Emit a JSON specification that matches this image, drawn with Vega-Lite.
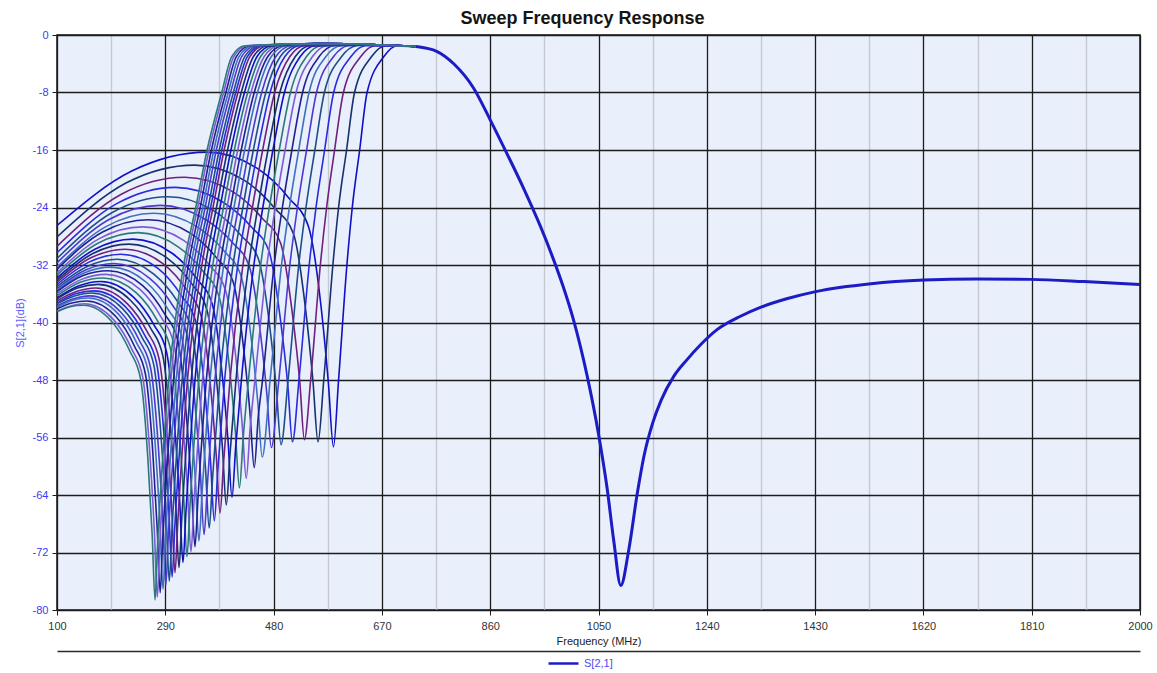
{
  "$schema": "https://vega.github.io/schema/vega-lite/v6.json",
  "autosize": {"type": "none"},
  "padding": {"left": 57, "top": 35, "right": 17, "bottom": 63},
  "width": 1083,
  "height": 575,
  "background": "#ffffff",
  "config": {
    "font": "Liberation Sans",
    "view": {"fill": "#e9effb", "stroke": "#161616", "strokeWidth": 1.5}
  },
  "title": {
    "text": "Sweep Frequency Response",
    "font": "Liberation Sans",
    "fontSize": 18,
    "fontWeight": "bold",
    "color": "#141414",
    "anchor": "middle",
    "dx": -16,
    "offset": 1
  },
  "datasets": {
    "sweep": [
      {"c":0,"f":100,"v":-26.5},{"c":0,"f":232,"v":-18.9},{"c":0,"f":363,"v":-16.3},{"c":0,"f":452,"v":-18.6},{"c":0,"f":507,"v":-22.7},{"c":0,"f":541,"v":-26.6},{"c":0,"f":563,"v":-37.6},{"c":0,"f":576,"v":-48.3},{"c":0,"f":585,"v":-57.3},{"c":0,"f":594,"v":-48},{"c":0,"f":608.6,"v":-32},{"c":0,"f":618,"v":-24},{"c":0,"f":631,"v":-16},{"c":0,"f":644,"v":-8},{"c":0,"f":673.5,"v":-3},{"c":0,"f":697,"v":-1.5},{"c":0,"f":730,"v":-1.6},
      {"c":1,"f":100,"v":-28.1},{"c":1,"f":221,"v":-20.6},{"c":1,"f":342,"v":-18.1},{"c":1,"f":428,"v":-20.2},{"c":1,"f":482,"v":-24.1},{"c":1,"f":515,"v":-27.7},{"c":1,"f":536,"v":-38.1},{"c":1,"f":549,"v":-48.1},{"c":1,"f":558,"v":-56.6},{"c":1,"f":568,"v":-48},{"c":1,"f":584,"v":-32},{"c":1,"f":594,"v":-24},{"c":1,"f":608,"v":-16},{"c":1,"f":622,"v":-8},{"c":1,"f":652,"v":-3},{"c":1,"f":677,"v":-1.5},{"c":1,"f":730,"v":-1.6},
      {"c":2,"f":100,"v":-29.4},{"c":2,"f":212,"v":-22.2},{"c":2,"f":324,"v":-19.8},{"c":2,"f":408,"v":-21.8},{"c":2,"f":460,"v":-25.5},{"c":2,"f":492,"v":-28.9},{"c":2,"f":513,"v":-38.8},{"c":2,"f":526,"v":-48.3},{"c":2,"f":534,"v":-56.3},{"c":2,"f":545,"v":-48},{"c":2,"f":562,"v":-32},{"c":2,"f":573,"v":-24},{"c":2,"f":587,"v":-16},{"c":2,"f":602.5,"v":-8},{"c":2,"f":633,"v":-3},{"c":2,"f":658,"v":-1.5},{"c":2,"f":730,"v":-1.6},
      {"c":3,"f":100,"v":-30.3},{"c":3,"f":204,"v":-23.5},{"c":3,"f":308,"v":-21.2},{"c":3,"f":390,"v":-23.2},{"c":3,"f":441,"v":-26.7},{"c":3,"f":472,"v":-30.1},{"c":3,"f":492,"v":-39.6},{"c":3,"f":505,"v":-48.8},{"c":3,"f":513,"v":-56.6},{"c":3,"f":524.5,"v":-48},{"c":3,"f":542.5,"v":-32},{"c":3,"f":554.4,"v":-24},{"c":3,"f":569.5,"v":-16},{"c":3,"f":585.4,"v":-8},{"c":3,"f":615.8,"v":-3},{"c":3,"f":641.4,"v":-1.5},{"c":3,"f":730,"v":-1.6},
      {"c":4,"f":100,"v":-31.1},{"c":4,"f":197,"v":-24.7},{"c":4,"f":294,"v":-22.5},{"c":4,"f":374,"v":-24.4},{"c":4,"f":423,"v":-27.9},{"c":4,"f":453,"v":-31.1},{"c":4,"f":473,"v":-40.4},{"c":4,"f":485,"v":-49.4},{"c":4,"f":493,"v":-57},{"c":4,"f":505.4,"v":-48},{"c":4,"f":524.1,"v":-32},{"c":4,"f":536.8,"v":-24},{"c":4,"f":552.4,"v":-16},{"c":4,"f":569.1,"v":-8},{"c":4,"f":599.4,"v":-3},{"c":4,"f":625.3,"v":-1.5},{"c":4,"f":660,"v":-1.35},{"c":4,"f":730,"v":-1.6},
      {"c":5,"f":100,"v":-31.7},{"c":5,"f":190.5,"v":-25.7},{"c":5,"f":281,"v":-23.7},{"c":5,"f":359,"v":-25.6},{"c":5,"f":408,"v":-28.9},{"c":5,"f":437,"v":-32.1},{"c":5,"f":456.5,"v":-41.2},{"c":5,"f":468.2,"v":-50},{"c":5,"f":476,"v":-57.4},{"c":5,"f":489.2,"v":-48},{"c":5,"f":508.5,"v":-32},{"c":5,"f":521.8,"v":-24},{"c":5,"f":537.9,"v":-16},{"c":5,"f":555.3,"v":-8},{"c":5,"f":585.3,"v":-3},{"c":5,"f":611.5,"v":-1.5},{"c":5,"f":660,"v":-1.35},{"c":5,"f":730,"v":-1.6},
      {"c":6,"f":100,"v":-32.3},{"c":6,"f":185,"v":-26.7},{"c":6,"f":270,"v":-24.8},{"c":6,"f":346,"v":-26.7},{"c":6,"f":393.5,"v":-30.1},{"c":6,"f":422,"v":-33.3},{"c":6,"f":441,"v":-42.4},{"c":6,"f":452.4,"v":-51.2},{"c":6,"f":460,"v":-58.7},{"c":6,"f":473.9,"v":-48},{"c":6,"f":493.9,"v":-32},{"c":6,"f":507.7,"v":-24},{"c":6,"f":524.1,"v":-16},{"c":6,"f":542.2,"v":-8},{"c":6,"f":571.8,"v":-3},{"c":6,"f":598.2,"v":-1.5},{"c":6,"f":660,"v":-1.35},{"c":6,"f":730,"v":-1.6},
      {"c":7,"f":100,"v":-32.6},{"c":7,"f":180,"v":-27.4},{"c":7,"f":260,"v":-25.7},{"c":7,"f":334.4,"v":-27.6},{"c":7,"f":380.9,"v":-31.1},{"c":7,"f":408.8,"v":-34.3},{"c":7,"f":427.4,"v":-43.6},{"c":7,"f":438.6,"v":-52.6},{"c":7,"f":446,"v":-60.2},{"c":7,"f":453,"v":-53.2},{"c":7,"f":460.6,"v":-48},{"c":7,"f":481,"v":-32},{"c":7,"f":495.4,"v":-24},{"c":7,"f":512.1,"v":-16},{"c":7,"f":530.8,"v":-8},{"c":7,"f":560,"v":-3},{"c":7,"f":586.4,"v":-1.5},{"c":7,"f":660,"v":-1.35},{"c":7,"f":730,"v":-1.6},
      {"c":8,"f":100,"v":-33.1},{"c":8,"f":175,"v":-28.3},{"c":8,"f":250,"v":-26.7},{"c":8,"f":322.8,"v":-28.6},{"c":8,"f":368.3,"v":-32.1},{"c":8,"f":395.6,"v":-35.5},{"c":8,"f":413.8,"v":-44.9},{"c":8,"f":424.7,"v":-54},{"c":8,"f":432,"v":-61.7},{"c":8,"f":438.8,"v":-54.7},{"c":8,"f":447.2,"v":-48},{"c":8,"f":468.3,"v":-32},{"c":8,"f":483,"v":-24},{"c":8,"f":500.2,"v":-16},{"c":8,"f":519.4,"v":-8},{"c":8,"f":548.2,"v":-3},{"c":8,"f":574.5,"v":-1.5},{"c":8,"f":660,"v":-1.35},{"c":8,"f":730,"v":-1.6},
      {"c":9,"f":100,"v":-33.4},{"c":9,"f":171,"v":-29},{"c":9,"f":242,"v":-27.5},{"c":9,"f":313.2,"v":-29.5},{"c":9,"f":357.7,"v":-33},{"c":9,"f":384.4,"v":-36.4},{"c":9,"f":402.2,"v":-46},{"c":9,"f":412.9,"v":-55.2},{"c":9,"f":420,"v":-63},{"c":9,"f":426.7,"v":-56},{"c":9,"f":435.9,"v":-48},{"c":9,"f":457.3,"v":-32},{"c":9,"f":472.5,"v":-24},{"c":9,"f":489.9,"v":-16},{"c":9,"f":509.6,"v":-8},{"c":9,"f":537.8,"v":-3},{"c":9,"f":564.3,"v":-1.5},{"c":9,"f":660,"v":-1.35},{"c":9,"f":730,"v":-1.6},
      {"c":10,"f":100,"v":-33.8},{"c":10,"f":166.5,"v":-29.8},{"c":10,"f":233,"v":-28.4},{"c":10,"f":302.6,"v":-30.4},{"c":10,"f":346.1,"v":-34},{"c":10,"f":372.2,"v":-37.4},{"c":10,"f":389.6,"v":-47.1},{"c":10,"f":400,"v":-56.4},{"c":10,"f":407,"v":-64.3},{"c":10,"f":413.5,"v":-57.3},{"c":10,"f":423.5,"v":-48},{"c":10,"f":445.4,"v":-32},{"c":10,"f":461.1,"v":-24},{"c":10,"f":478.8,"v":-16},{"c":10,"f":499,"v":-8},{"c":10,"f":526.8,"v":-3},{"c":10,"f":553.1,"v":-1.5},{"c":10,"f":660,"v":-1.35},{"c":10,"f":730,"v":-1.6},
      {"c":11,"f":100,"v":-34.1},{"c":11,"f":163,"v":-30.4},{"c":11,"f":226,"v":-29.1},{"c":11,"f":294.4,"v":-31.1},{"c":11,"f":337.2,"v":-34.7},{"c":11,"f":362.8,"v":-38.2},{"c":11,"f":379.9,"v":-48},{"c":11,"f":390.2,"v":-57.4},{"c":11,"f":397,"v":-65.4},{"c":11,"f":403.4,"v":-58.4},{"c":11,"f":414,"v":-48},{"c":11,"f":436.3,"v":-32},{"c":11,"f":452.4,"v":-24},{"c":11,"f":470.2,"v":-16},{"c":11,"f":490.9,"v":-8},{"c":11,"f":518.1,"v":-3},{"c":11,"f":544.3,"v":-1.5},{"c":11,"f":660,"v":-1.35},{"c":11,"f":730,"v":-1.6},
      {"c":12,"f":100,"v":-34.4},{"c":12,"f":159.5,"v":-31},{"c":12,"f":219,"v":-29.8},{"c":12,"f":285.8,"v":-31.8},{"c":12,"f":327.6,"v":-35.5},{"c":12,"f":352.6,"v":-39},{"c":12,"f":369.3,"v":-48.9},{"c":12,"f":379.3,"v":-58.4},{"c":12,"f":386,"v":-66.5},{"c":12,"f":392.2,"v":-59.5},{"c":12,"f":403.5,"v":-48},{"c":12,"f":426.2,"v":-32},{"c":12,"f":442.8,"v":-24},{"c":12,"f":460.8,"v":-16},{"c":12,"f":481.9,"v":-8},{"c":12,"f":508.6,"v":-3},{"c":12,"f":534.7,"v":-1.5},{"c":12,"f":660,"v":-1.35},{"c":12,"f":730,"v":-1.6},
      {"c":13,"f":100,"v":-34.7},{"c":13,"f":156,"v":-31.6},{"c":13,"f":212,"v":-30.5},{"c":13,"f":277.6,"v":-32.5},{"c":13,"f":318.6,"v":-36.3},{"c":13,"f":343.2,"v":-39.8},{"c":13,"f":359.6,"v":-49.8},{"c":13,"f":369.4,"v":-59.4},{"c":13,"f":376,"v":-67.6},{"c":13,"f":382.1,"v":-60.6},{"c":13,"f":394.1,"v":-48},{"c":13,"f":417.1,"v":-32},{"c":13,"f":434,"v":-24},{"c":13,"f":452.3,"v":-16},{"c":13,"f":473.8,"v":-8},{"c":13,"f":499.8,"v":-3},{"c":13,"f":525.8,"v":-1.5},{"c":13,"f":660,"v":-1.35},{"c":13,"f":730,"v":-1.6},
      {"c":14,"f":100,"v":-35},{"c":14,"f":153,"v":-32.2},{"c":14,"f":206,"v":-31.2},{"c":14,"f":270.4,"v":-33.3},{"c":14,"f":310.7,"v":-37},{"c":14,"f":334.8,"v":-40.6},{"c":14,"f":350.9,"v":-50.6},{"c":14,"f":360.6,"v":-60.4},{"c":14,"f":367,"v":-68.6},{"c":14,"f":373,"v":-61.6},{"c":14,"f":385.6,"v":-48},{"c":14,"f":408.8,"v":-32},{"c":14,"f":426.1,"v":-24},{"c":14,"f":444.5,"v":-16},{"c":14,"f":466.4,"v":-8},{"c":14,"f":491.8,"v":-3},{"c":14,"f":517.8,"v":-1.5},{"c":14,"f":560,"v":-1.2},{"c":14,"f":660,"v":-1.35},{"c":14,"f":730,"v":-1.6},
      {"c":15,"f":100,"v":-35.3},{"c":15,"f":150,"v":-32.7},{"c":15,"f":200,"v":-31.8},{"c":15,"f":263.2,"v":-33.9},{"c":15,"f":302.7,"v":-37.6},{"c":15,"f":326.4,"v":-41.2},{"c":15,"f":342.2,"v":-51.4},{"c":15,"f":351.7,"v":-61.2},{"c":15,"f":358,"v":-69.5},{"c":15,"f":363.9,"v":-62.5},{"c":15,"f":377.1,"v":-48},{"c":15,"f":400.7,"v":-32},{"c":15,"f":418.3,"v":-24},{"c":15,"f":436.9,"v":-16},{"c":15,"f":459.1,"v":-8},{"c":15,"f":484,"v":-3},{"c":15,"f":509.8,"v":-1.5},{"c":15,"f":560,"v":-1.2},{"c":15,"f":660,"v":-1.35},{"c":15,"f":730,"v":-1.6},
      {"c":16,"f":100,"v":-35.5},{"c":16,"f":147.5,"v":-33.1},{"c":16,"f":195,"v":-32.3},{"c":16,"f":256.6,"v":-34.4},{"c":16,"f":295.1,"v":-38.2},{"c":16,"f":318.2,"v":-41.8},{"c":16,"f":333.6,"v":-52.1},{"c":16,"f":342.8,"v":-62},{"c":16,"f":349,"v":-70.4},{"c":16,"f":354.7,"v":-63.4},{"c":16,"f":368.5,"v":-48},{"c":16,"f":392.5,"v":-32},{"c":16,"f":410.5,"v":-24},{"c":16,"f":429.2,"v":-16},{"c":16,"f":451.8,"v":-8},{"c":16,"f":476.1,"v":-3},{"c":16,"f":501.8,"v":-1.5},{"c":16,"f":560,"v":-1.2},{"c":16,"f":660,"v":-1.35},{"c":16,"f":730,"v":-1.6},
      {"c":17,"f":100,"v":-35.7},{"c":17,"f":145,"v":-33.5},{"c":17,"f":190,"v":-32.8},{"c":17,"f":250.8,"v":-34.9},{"c":17,"f":288.8,"v":-38.8},{"c":17,"f":311.6,"v":-42.4},{"c":17,"f":326.8,"v":-52.8},{"c":17,"f":335.9,"v":-62.8},{"c":17,"f":342,"v":-71.2},{"c":17,"f":347.5,"v":-64.2},{"c":17,"f":362,"v":-48},{"c":17,"f":386,"v":-32},{"c":17,"f":404.4,"v":-24},{"c":17,"f":423.2,"v":-16},{"c":17,"f":446.1,"v":-8},{"c":17,"f":469.9,"v":-3},{"c":17,"f":495.4,"v":-1.5},{"c":17,"f":560,"v":-1.2},{"c":17,"f":660,"v":-1.35},{"c":17,"f":730,"v":-1.6},
      {"c":18,"f":100,"v":-36},{"c":18,"f":143,"v":-34},{"c":18,"f":186,"v":-33.3},{"c":18,"f":245.6,"v":-35.4},{"c":18,"f":282.9,"v":-39.3},{"c":18,"f":305.2,"v":-43},{"c":18,"f":320.1,"v":-53.4},{"c":18,"f":329,"v":-63.4},{"c":18,"f":335,"v":-71.9},{"c":18,"f":340.4,"v":-64.9},{"c":18,"f":355.3,"v":-48},{"c":18,"f":379.6,"v":-32},{"c":18,"f":398.2,"v":-24},{"c":18,"f":417.1,"v":-16},{"c":18,"f":440.3,"v":-8},{"c":18,"f":463.6,"v":-3},{"c":18,"f":488.8,"v":-1.5},{"c":18,"f":560,"v":-1.2},{"c":18,"f":660,"v":-1.35},{"c":18,"f":730,"v":-1.6},
      {"c":19,"f":100,"v":-36.3},{"c":19,"f":140.5,"v":-34.4},{"c":19,"f":181,"v":-33.8},{"c":19,"f":239.8,"v":-35.9},{"c":19,"f":276.6,"v":-39.8},{"c":19,"f":298.6,"v":-43.5},{"c":19,"f":313.3,"v":-54},{"c":19,"f":322.1,"v":-64.1},{"c":19,"f":328,"v":-72.6},{"c":19,"f":333.2,"v":-65.6},{"c":19,"f":348.7,"v":-48},{"c":19,"f":373.3,"v":-32},{"c":19,"f":392.1,"v":-24},{"c":19,"f":411.1,"v":-16},{"c":19,"f":434.6,"v":-8},{"c":19,"f":457.3,"v":-3},{"c":19,"f":482.5,"v":-1.5},{"c":19,"f":560,"v":-1.2},{"c":19,"f":660,"v":-1.35},{"c":19,"f":730,"v":-1.6},
      {"c":20,"f":100,"v":-36.6},{"c":20,"f":138.5,"v":-34.9},{"c":20,"f":177,"v":-34.3},{"c":20,"f":234.6,"v":-36.5},{"c":20,"f":270.6,"v":-40.4},{"c":20,"f":292.2,"v":-44.1},{"c":20,"f":306.6,"v":-54.6},{"c":20,"f":315.2,"v":-64.8},{"c":20,"f":321,"v":-73.4},{"c":20,"f":326.2,"v":-66.4},{"c":20,"f":342.1,"v":-48},{"c":20,"f":366.9,"v":-32},{"c":20,"f":386,"v":-24},{"c":20,"f":405.2,"v":-16},{"c":20,"f":428.9,"v":-8},{"c":20,"f":451,"v":-3},{"c":20,"f":475.9,"v":-1.5},{"c":20,"f":560,"v":-1.2},{"c":20,"f":660,"v":-1.35},{"c":20,"f":730,"v":-1.6},
      {"c":21,"f":100,"v":-36.7},{"c":21,"f":136,"v":-35.2},{"c":21,"f":172,"v":-34.7},{"c":21,"f":228.8,"v":-36.9},{"c":21,"f":264.3,"v":-40.8},{"c":21,"f":285.6,"v":-44.6},{"c":21,"f":299.8,"v":-55.2},{"c":21,"f":308.3,"v":-65.4},{"c":21,"f":314,"v":-74.1},{"c":21,"f":319,"v":-67.1},{"c":21,"f":335.5,"v":-48},{"c":21,"f":360.5,"v":-32},{"c":21,"f":379.8,"v":-24},{"c":21,"f":399.2,"v":-16},{"c":21,"f":423.2,"v":-8},{"c":21,"f":444.7,"v":-3},{"c":21,"f":469.5,"v":-1.5},{"c":21,"f":560,"v":-1.2},{"c":21,"f":660,"v":-1.35},{"c":21,"f":730,"v":-1.6},
      {"c":22,"f":100,"v":-37},{"c":22,"f":134,"v":-35.7},{"c":22,"f":168,"v":-35.2},{"c":22,"f":223.6,"v":-37.4},{"c":22,"f":258.4,"v":-41.3},{"c":22,"f":279.2,"v":-45.1},{"c":22,"f":293.1,"v":-55.8},{"c":22,"f":301.4,"v":-66.1},{"c":22,"f":307,"v":-74.8},{"c":22,"f":311.9,"v":-67.8},{"c":22,"f":328.9,"v":-48},{"c":22,"f":354.2,"v":-32},{"c":22,"f":373.7,"v":-24},{"c":22,"f":393.2,"v":-16},{"c":22,"f":417.5,"v":-8},{"c":22,"f":438.4,"v":-3},{"c":22,"f":463,"v":-1.5},{"c":22,"f":560,"v":-1.2},{"c":22,"f":660,"v":-1.35},{"c":22,"f":730,"v":-1.6},
      {"c":23,"f":100,"v":-37.3},{"c":23,"f":132.5,"v":-36},{"c":23,"f":165,"v":-35.6},{"c":23,"f":219.8,"v":-37.8},{"c":23,"f":254,"v":-41.8},{"c":23,"f":274.6,"v":-45.6},{"c":23,"f":288.3,"v":-56.3},{"c":23,"f":296.5,"v":-66.6},{"c":23,"f":302,"v":-75.4},{"c":23,"f":306.7,"v":-68.4},{"c":23,"f":324.2,"v":-48},{"c":23,"f":349.6,"v":-32},{"c":23,"f":369.5,"v":-24},{"c":23,"f":389,"v":-16},{"c":23,"f":413.5,"v":-8},{"c":23,"f":434,"v":-3},{"c":23,"f":458.4,"v":-1.5},{"c":23,"f":560,"v":-1.2},{"c":23,"f":660,"v":-1.35},{"c":23,"f":730,"v":-1.6},
      {"c":24,"f":100,"v":-37.4},{"c":24,"f":130.5,"v":-36.3},{"c":24,"f":161,"v":-35.9},{"c":24,"f":215.4,"v":-38.1},{"c":24,"f":249.4,"v":-42.1},{"c":24,"f":269.8,"v":-45.9},{"c":24,"f":283.4,"v":-56.8},{"c":24,"f":291.6,"v":-67.2},{"c":24,"f":297,"v":-76},{"c":24,"f":301.6,"v":-69},{"c":24,"f":319.5,"v":-48},{"c":24,"f":345.1,"v":-32},{"c":24,"f":365.1,"v":-24},{"c":24,"f":384.7,"v":-16},{"c":24,"f":409.4,"v":-8},{"c":24,"f":429.4,"v":-3},{"c":24,"f":453.6,"v":-1.5},{"c":24,"f":560,"v":-1.2},{"c":24,"f":660,"v":-1.35},{"c":24,"f":730,"v":-1.6},
      {"c":25,"f":100,"v":-37.7},{"c":25,"f":129,"v":-36.7},{"c":25,"f":158,"v":-36.3},{"c":25,"f":211.2,"v":-38.5},{"c":25,"f":244.5,"v":-42.5},{"c":25,"f":264.4,"v":-46.4},{"c":25,"f":277.7,"v":-57.2},{"c":25,"f":285.7,"v":-67.7},{"c":25,"f":291,"v":-76.5},{"c":25,"f":295.4,"v":-69.5},{"c":25,"f":313.8,"v":-48},{"c":25,"f":339.6,"v":-32},{"c":25,"f":359.9,"v":-24},{"c":25,"f":379.5,"v":-16},{"c":25,"f":404.5,"v":-8},{"c":25,"f":424,"v":-3},{"c":25,"f":448.1,"v":-1.5},{"c":25,"f":560,"v":-1.2},{"c":25,"f":660,"v":-1.35},{"c":25,"f":730,"v":-1.6},
      {"c":26,"f":100,"v":-37.9},{"c":26,"f":127.5,"v":-36.9},{"c":26,"f":155,"v":-36.6},{"c":26,"f":207.4,"v":-38.8},{"c":26,"f":240.2,"v":-42.9},{"c":26,"f":259.8,"v":-46.7},{"c":26,"f":272.9,"v":-57.7},{"c":26,"f":280.8,"v":-68.2},{"c":26,"f":286,"v":-77.1},{"c":26,"f":290.3,"v":-70.1},{"c":26,"f":309.1,"v":-48},{"c":26,"f":335.1,"v":-32},{"c":26,"f":355.6,"v":-24},{"c":26,"f":375.2,"v":-16},{"c":26,"f":400.4,"v":-8},{"c":26,"f":419.4,"v":-3},{"c":26,"f":443.3,"v":-1.5},{"c":26,"f":560,"v":-1.2},{"c":26,"f":660,"v":-1.35},{"c":26,"f":730,"v":-1.6},
      {"c":27,"f":100,"v":-38.1},{"c":27,"f":126,"v":-37.3},{"c":27,"f":152,"v":-37},{"c":27,"f":203.6,"v":-39.2},{"c":27,"f":235.9,"v":-43.3},{"c":27,"f":255.2,"v":-47.2},{"c":27,"f":268.1,"v":-58.1},{"c":27,"f":275.8,"v":-68.7},{"c":27,"f":281,"v":-77.6},{"c":27,"f":285.2,"v":-70.6},{"c":27,"f":304.4,"v":-48},{"c":27,"f":330.5,"v":-32},{"c":27,"f":351.2,"v":-24},{"c":27,"f":370.9,"v":-16},{"c":27,"f":396.3,"v":-8},{"c":27,"f":414.7,"v":-3},{"c":27,"f":438.4,"v":-1.5},{"c":27,"f":560,"v":-1.2},{"c":27,"f":660,"v":-1.35},{"c":27,"f":730,"v":-1.6},
      {"c":28,"f":100,"v":-38.4},{"c":28,"f":124,"v":-37.7},{"c":28,"f":148,"v":-37.4},{"c":28,"f":199.2,"v":-39.6},{"c":28,"f":231.2,"v":-43.7},{"c":28,"f":250.4,"v":-47.6},{"c":28,"f":263.2,"v":-58.6},{"c":28,"f":270.9,"v":-69.2},{"c":28,"f":276,"v":-78.2},{"c":28,"f":280.1,"v":-71.2},{"c":28,"f":299.7,"v":-48},{"c":28,"f":326,"v":-32},{"c":28,"f":346.8,"v":-24},{"c":28,"f":366.7,"v":-16},{"c":28,"f":392.3,"v":-8},{"c":28,"f":410.2,"v":-3},{"c":28,"f":433.7,"v":-1.5},{"c":28,"f":560,"v":-1.2},{"c":28,"f":660,"v":-1.35},{"c":28,"f":730,"v":-1.6},
      {"c":29,"f":100,"v":-38.5},{"c":29,"f":123,"v":-37.8},{"c":29,"f":146,"v":-37.6},{"c":29,"f":196.4,"v":-39.9},{"c":29,"f":227.9,"v":-44},{"c":29,"f":246.8,"v":-47.9},{"c":29,"f":259.4,"v":-58.9},{"c":29,"f":267,"v":-69.6},{"c":29,"f":272,"v":-78.6},{"c":29,"f":276,"v":-71.6},{"c":29,"f":296,"v":-48},{"c":29,"f":322.3,"v":-32},{"c":29,"f":343.4,"v":-24},{"c":29,"f":363.3,"v":-16},{"c":29,"f":389,"v":-8},{"c":29,"f":406.6,"v":-3},{"c":29,"f":430,"v":-1.5},{"c":29,"f":560,"v":-1.2},{"c":29,"f":660,"v":-1.35},{"c":29,"f":730,"v":-1.6}
    ],
    "tail": [
      {"s":"S[2,1]","f":730,"v":-1.6},{"s":"S[2,1]","f":767,"v":-2.3},{"s":"S[2,1]","f":796,"v":-4},{"s":"S[2,1]","f":831,"v":-7.4},{"s":"S[2,1]","f":860,"v":-11.8},{"s":"S[2,1]","f":890,"v":-16.6},{"s":"S[2,1]","f":919,"v":-21.4},{"s":"S[2,1]","f":948,"v":-26.6},{"s":"S[2,1]","f":969,"v":-30.8},{"s":"S[2,1]","f":988,"v":-35},{"s":"S[2,1]","f":1006,"v":-39.6},{"s":"S[2,1]","f":1030,"v":-47.4},{"s":"S[2,1]","f":1050,"v":-55.5},{"s":"S[2,1]","f":1065,"v":-63},{"s":"S[2,1]","f":1077,"v":-70.5},{"s":"S[2,1]","f":1089,"v":-76.6},{"s":"S[2,1]","f":1103,"v":-71.7},{"s":"S[2,1]","f":1118,"v":-63.8},{"s":"S[2,1]","f":1130,"v":-58.5},{"s":"S[2,1]","f":1145,"v":-54},{"s":"S[2,1]","f":1160,"v":-50.8},{"s":"S[2,1]","f":1182,"v":-47.5},{"s":"S[2,1]","f":1205,"v":-45.2},{"s":"S[2,1]","f":1229,"v":-43.1},{"s":"S[2,1]","f":1258,"v":-41},{"s":"S[2,1]","f":1300,"v":-39.1},{"s":"S[2,1]","f":1334,"v":-37.9},{"s":"S[2,1]","f":1380,"v":-36.7},{"s":"S[2,1]","f":1431,"v":-35.7},{"s":"S[2,1]","f":1528,"v":-34.6},{"s":"S[2,1]","f":1621,"v":-34.1},{"s":"S[2,1]","f":1715,"v":-33.95},{"s":"S[2,1]","f":1808,"v":-34},{"s":"S[2,1]","f":1902,"v":-34.3},{"s":"S[2,1]","f":2000,"v":-34.7}
    ]
  },
  "layer": [
    {
      "data": {"name": "sweep"},
      "mark": {"type": "line", "interpolate": "monotone", "strokeWidth": 1.6, "clip": true},
      "encoding": {
        "x": {
          "field": "f", "type": "quantitative",
          "scale": {"domain": [100, 2000], "nice": false, "zero": false},
          "axis": {
            "orient": "bottom",
            "values": [100,195,290,385,480,575,670,765,860,955,1050,1145,1240,1335,1430,1525,1620,1715,1810,1905,2000],
            "domain": false,
            "grid": true,
            "gridColor": {"condition": {"test": "datum.value % 190 === 100", "value": "#1c1c1c"}, "value": "#c4c8d0"},
            "gridWidth": 1.3,
            "ticks": true,
            "tickSize": 5,
            "tickColor": "#1c1c1c",
            "tickOpacity": {"condition": {"test": "datum.value % 190 === 100", "value": 1}, "value": 0},
            "labelExpr": "datum.value % 190 === 100 ? '' + datum.value : ''",
            "labelFont": "Liberation Sans",
            "labelFontSize": 11,
            "labelColor": "#333333",
            "labelPadding": 5,
            "labelOverlap": false,
            "labelFlush": false,
            "title": "Frequency (MHz)",
            "titleFont": "Liberation Sans",
            "titleFontSize": 11,
            "titleFontWeight": "normal",
            "titleColor": "#222222",
            "titlePadding": 4
          }
        },
        "y": {
          "field": "v", "type": "quantitative",
          "scale": {"domain": [-80, 0], "nice": false, "zero": false},
          "axis": {
            "values": [-80,-76,-72,-68,-64,-60,-56,-52,-48,-44,-40,-36,-32,-28,-24,-20,-16,-12,-8,-4,0],
            "domain": false,
            "grid": true,
            "gridColor": {"condition": {"test": "datum.value % 8 === 0", "value": "#1c1c1c"}, "value": "#c4c8d0"},
            "gridWidth": 1.3,
            "tickSize": 5,
            "tickColor": "#1c1c1c",
            "tickOpacity": {"condition": {"test": "datum.value % 8 === 0", "value": 1}, "value": 0},
            "labelExpr": "datum.value % 8 === 0 ? '' + datum.value : ''",
            "labelFont": "Liberation Sans",
            "labelFontSize": 11,
            "labelColor": "#3c3cf0",
            "labelPadding": 4,
            "labelOverlap": false,
            "labelFlush": false,
            "title": "S[2,1](dB)",
            "titleFont": "Liberation Sans",
            "titleFontSize": 11,
            "titleFontWeight": "normal",
            "titleColor": "#5a5aff",
            "titlePadding": 7
          }
        },
        "color": {
          "field": "c", "type": "nominal",
          "scale": {"range": ["#1010c8","#17306e","#70207e","#2a2ae0","#1c4f8a","#4a3ad0","#3e6fc0","#20208f","#7b5cd6","#2b7a78"]},
          "legend": null
        }
      }
    },
    {
      "data": {"name": "tail"},
      "mark": {"type": "line", "interpolate": "monotone", "strokeWidth": 3, "clip": true},
      "encoding": {
        "x": {
          "field": "f", "type": "quantitative",
          "axis": {
            "orient": "bottom",
            "offset": 41,
            "domain": true,
            "domainColor": "#2a2a2a",
            "domainWidth": 1.5,
            "grid": false,
            "ticks": false,
            "labels": false,
            "title": null
          }
        },
        "y": {"field": "v", "type": "quantitative"},
        "color": {
          "field": "s", "type": "nominal",
          "scale": {"range": ["#1c1cc4"]},
          "legend": {
            "orient": "none",
            "legendX": 490,
            "legendY": 612,
            "direction": "horizontal",
            "title": null,
            "padding": 0,
            "symbolType": "stroke",
            "symbolSize": 900,
            "symbolStrokeWidth": 2.5,
            "labelFont": "Liberation Sans",
            "labelFontSize": 11,
            "labelColor": "#4a4af0"
          }
        }
      }
    }
  ],
  "resolve": {"scale": {"color": "independent"}, "axis": {"x": "independent"}}
}
